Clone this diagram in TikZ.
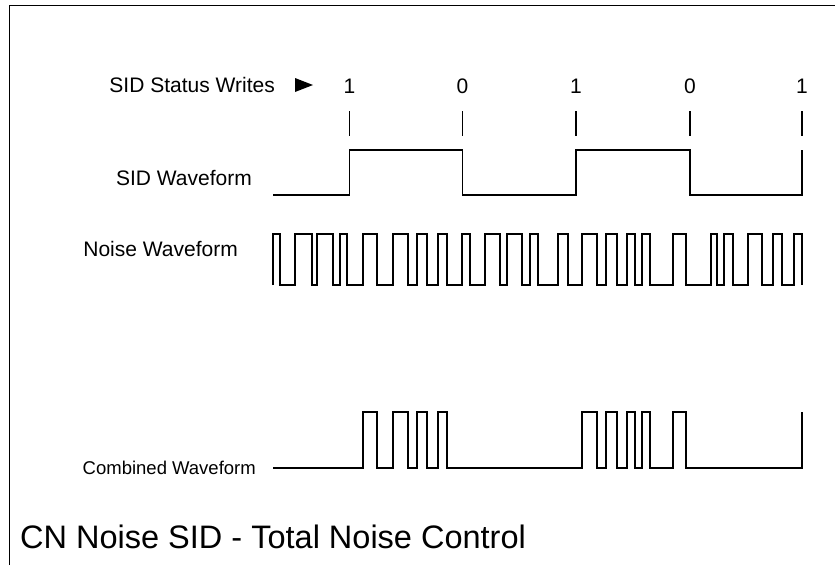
\documentclass[tikz,border=0pt]{standalone}
\usepackage{fontspec}
\setmainfont{Liberation Sans}
\begin{document}
\begin{tikzpicture}[x=1pt,y=-1pt,
  wave/.style={line width=1.7pt, line join=miter},
  tickmark/.style={line width=1.4pt},
  lbl/.style={inner sep=0pt, font=\fontsize{21}{24}\selectfont},
  lblsmall/.style={inner sep=0pt, font=\fontsize{18.5}{22}\selectfont},
  titletext/.style={inner sep=0pt, font=\fontsize{32.5}{36}\selectfont},
  framel/.style={line width=1.5pt}]
\useasboundingbox (0,0) rectangle (835,565);
% frame
\draw[framel] (9.5,565) -- (9.5,5.5) -- (835,5.5);
% labels
\node[lbl, anchor=base east] (writes) at (275,92) {SID Status Writes};
\fill (295,78) -- (313,85) -- (295,92) -- cycle;
\node[lbl, anchor=base] (w1) at (349.5,93) {1};
\node[lbl, anchor=base] (w2) at (462.5,93) {0};
\node[lbl, anchor=base] (w3) at (576,93) {1};
\node[lbl, anchor=base] (w4) at (690,93) {0};
\node[lbl, anchor=base] (w5) at (802,93) {1};
\foreach \x in {349.5,462.5,576,690,802}
  \draw[tickmark] (\x,111) -- (\x,136);
\node[lbl, anchor=base east] (sidl) at (252,185) {SID Waveform};
\node[lbl, anchor=base east] (noisel) at (238,256) {Noise Waveform};
\node[lblsmall, anchor=base east] (combl) at (256,474) {Combined Waveform};
\node[titletext, anchor=base west] (title) at (20,548) {CN Noise SID - Total Noise Control};
% SID waveform
\draw[wave] (273,195) -- (349.5,195) |- (462.5,150) |- (576,195) |- (690,150) |- (802,195) -- (802,150);
% noise waveform
\draw[wave] (273,285) |- (280,234) |- (295,285) |- (312,234) |- (317,285) |- (333,234) |- (340,285) |- (347,234) |- (363,285) |- (377,234) |- (393,285) |- (408,234) |- (417,285) |- (427,234) |- (438,285) |- (447,234) |- (462,285) |- (470,234) |- (485,285) |- (500,234) |- (507,285) |- (522,234) |- (530,285) |- (538,234) |- (558,285) |- (568,234) |- (582,285) |- (597,234) |- (606,285) |- (617,234) |- (627,285) |- (635,234) |- (642,285) |- (650,234) |- (673,285) |- (686,234) |- (711,285) |- (717,234) |- (724,285) |- (733,234) |- (748,285) |- (762,234) |- (773,285) |- (782,234) |- (794,285) |- (802,234) -- (802,285);
% combined waveform
\draw[wave] (273,468) -- (363,468) |- (377,412) |- (393,468) |- (408,412) |- (417,468) |- (427,412) |- (438,468) |- (447,412) |- (582,468) |- (597,412) |- (606,468) |- (617,412) |- (627,468) |- (635,412) |- (642,468) |- (650,412) |- (673,468) |- (686,412) |- (802,468) -- (802,412);
\end{tikzpicture}
\end{document}
